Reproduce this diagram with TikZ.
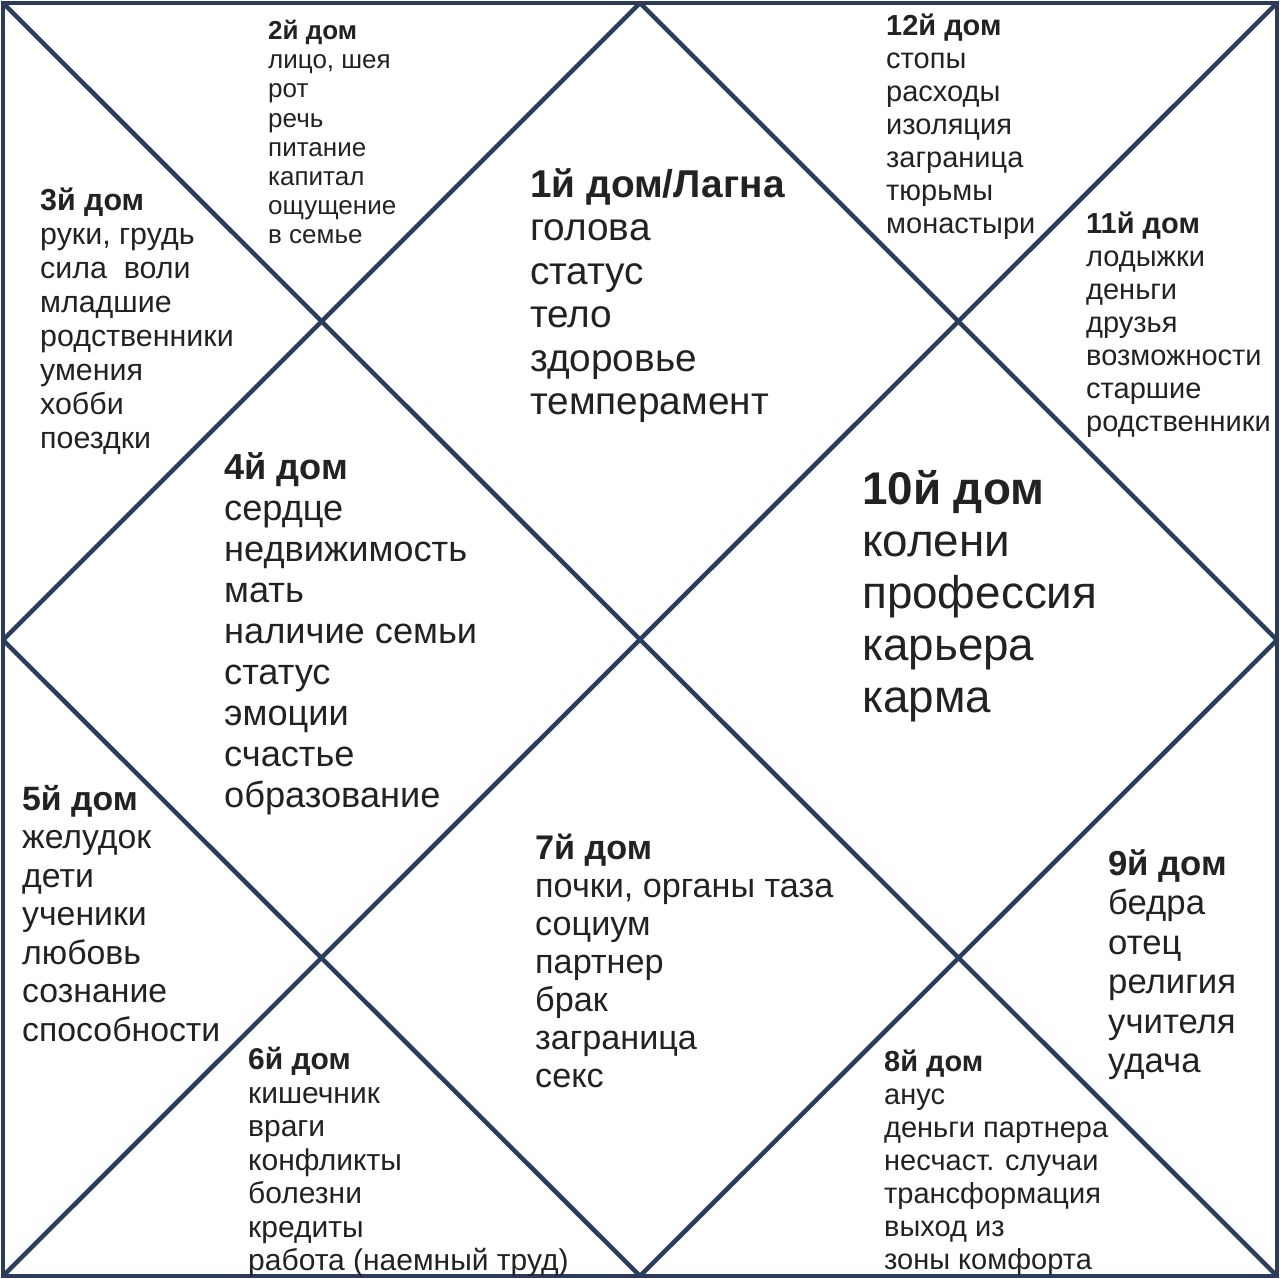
\documentclass[tikz,border=0pt]{standalone}
\usepackage{fontspec}
\setmainfont{Liberation Sans}
\usepackage{xcolor}
\definecolor{chartline}{RGB}{43, 60, 92}
\definecolor{housetext}{RGB}{34, 34, 34}
\tikzset{
  chart/.style={line width=4.5pt, chartline, line join=miter},
  house/.style={anchor=north west, inner sep=0pt, align=left, text=housetext},
}
\newcommand{\housefont}[2]{\fontsize{#1}{#2}\selectfont}

\begin{document}
\begin{tikzpicture}[x=1pt,y=-1pt]
\useasboundingbox (0,0) rectangle (1280,1279);
\coordinate (tl) at (3,3);
\coordinate (tr) at (1277,3);
\coordinate (br) at (1277,1276);
\coordinate (bl) at (3,1276);
\coordinate (mt) at (640,3);
\coordinate (mr) at (1277,640);
\coordinate (mb) at (640,1276);
\coordinate (ml) at (3,640);
% square, diagonals, diamond
\draw[chart] (tl) -- (tr) -- (br) -- (bl) -- cycle;
\draw[chart] (tl) -- (br);
\draw[chart] (tr) -- (bl);
\draw[chart,line join=bevel] (mt) -- (mr) -- (mb) -- (ml) -- cycle;
% houses
\node[house,font=\housefont{38.8}{43.5}] (h1) at (530,168) {\textbf{1й дом/Лагна}\\голова\\статус\\тело\\здоровье\\темперамент};
\node[house,font=\housefont{26}{29.2}] (h2) at (268,20) {\textbf{2й дом}\\лицо, шея\\рот\\речь\\питание\\капитал\\ощущение\\в семье};
\node[house,font=\housefont{30.4}{34}] (h3) at (40,188) {\textbf{3й дом}\\руки, грудь\\сила\ \ воли\\младшие\\родственники\\умения\\хобби\\поездки};
\node[house,font=\housefont{36.2}{41}] (h4) at (224,452) {\textbf{4й дом}\\сердце\\недвижимость\\мать\\наличие семьи\\статус\\эмоции\\счастье\\образование};
\node[house,font=\housefont{33.8}{38.5}] (h5) at (22,785) {\textbf{5й дом}\\желудок\\дети\\ученики\\любовь\\сознание\\способности};
\node[house,font=\housefont{30}{33.5}] (h6) at (248,1047) {\textbf{6й дом}\\кишечник\\враги\\конфликты\\болезни\\кредиты\\работа (наемный труд)};
\node[house,font=\housefont{34.2}{38}] (h7) at (535,834) {\textbf{7й дом}\\почки, органы таза\\социум\\партнер\\брак\\заграница\\секс};
\node[house,font=\housefont{29}{33}] (h8) at (884,1050) {\textbf{8й дом}\\анус\\деньги партнера\\несчаст. случаи\\трансформация\\выход из\\зоны комфорта};
\node[house,font=\housefont{34.7}{39.5}] (h9) at (1108,849) {\textbf{9й дом}\\бедра\\отец\\религия\\учителя\\удача};
\node[house,font=\housefont{45.8}{52}] (h10) at (862,470) {\textbf{10й дом}\\колени\\профессия\\карьера\\карма};
\node[house,font=\housefont{29}{33}] (h11) at (1086,212) {\textbf{11й дом}\\лодыжки\\деньги\\друзья\\возможности\\старшие\\родственники};
\node[house,font=\housefont{29}{33}] (h12) at (886,14) {\textbf{12й дом}\\стопы\\расходы\\изоляция\\заграница\\тюрьмы\\монастыри};
\end{tikzpicture}
\end{document}
